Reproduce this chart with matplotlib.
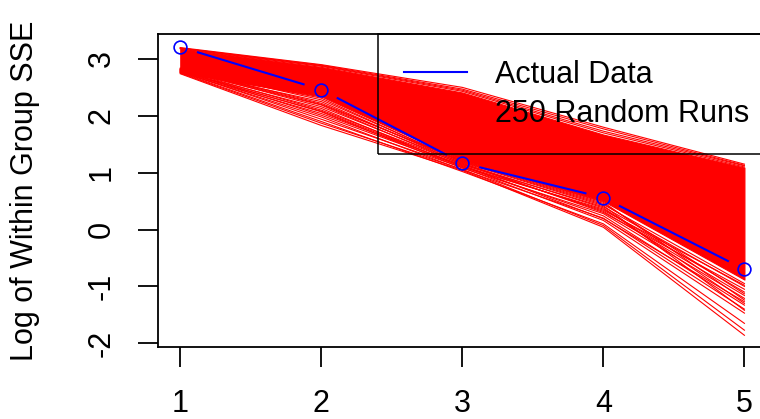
import matplotlib
matplotlib.use("Agg")
import matplotlib.pyplot as plt
import numpy as np

plt.rcParams.update({'font.size': 22, 'font.family': ['Liberation Sans', 'DejaVu Sans']})

# number of clusters
clusters = [1, 2, 3, 4, 5]

# log within-group SSE for the real data
actual_sse = [3.21, 2.46, 1.17, 0.56, -0.70]

# dense band covered by most of the random runs
band_upper = [3.18, 2.86, 2.41, 1.67, 1.09]
band_lower = [2.76, 2.34, 1.22, 0.50, -0.88]

# runs that sit above the dense band
runs_high = [
    [3.20, 2.90, 2.50, 1.80, 1.15],
    [3.19, 2.89, 2.47, 1.77, 1.13],
    [3.19, 2.88, 2.45, 1.73, 1.12],
    [3.18, 2.87, 2.43, 1.70, 1.10],
]

# runs that drift below the dense band
runs_low = [
    [2.74, 1.83, 1.04, 0.04, -1.86],
    [2.75, 1.87, 1.06, 0.07, -1.77],
    [2.76, 1.90, 1.02, 0.10, -1.65],
    [2.78, 1.94, 1.09, 0.16, -1.47],
    [2.77, 1.98, 1.05, 0.20, -1.40],
    [2.80, 2.01, 1.11, 0.24, -1.33],
    [2.76, 2.04, 1.13, 0.19, -1.27],
    [2.79, 2.07, 1.08, 0.28, -1.21],
    [2.81, 2.10, 1.15, 0.32, -1.16],
    [2.78, 2.13, 1.10, 0.36, -1.10],
    [2.82, 2.16, 1.17, 0.30, -1.05],
    [2.80, 2.19, 1.14, 0.40, -1.00],
    [2.83, 2.22, 1.19, 0.44, -0.95],
    [2.79, 2.25, 1.16, 0.38, -1.30],
    [2.84, 2.28, 1.20, 0.46, -1.13],
    [2.81, 2.31, 1.18, 0.42, -1.42],
    [2.77, 2.08, 1.12, 0.34, -0.98],
    [2.82, 2.20, 1.21, 0.48, -1.24],
]

y_ticks = [-2, -1, 0, 1, 2, 3]

fig = plt.figure(figsize=(7.6, 4.19), dpi=100)
ax = fig.add_axes([0.2075, 0.1726, 0.8017, 0.7456])
ax.set_xlim(0.84, 5.16)
ax.set_ylim(-2.06, 3.434)

#random runs
red = "#FF0000"
ax.fill_between(clusters, band_lower, band_upper, color=red, lw=0.8, zorder=1)
for run in runs_high + runs_low:
    ax.plot(clusters, run, color=red, lw=0.8, zorder=2)

#actual data, drawn R "type=b" style: circles with gaps in the line
blue = "#0000FF"
ax.plot(clusters, actual_sse, 'o', mfc='none', mec=blue, mew=1.2, ms=9.2, zorder=4)
pts = ax.transData.transform(np.column_stack([clusters, actual_sse]))
gap = 18.5
for p0, p1 in zip(pts[:-1], pts[1:]):
    d = (p1 - p0) / np.hypot(*(p1 - p0))
    seg = ax.transData.inverted().transform([p0 + gap * d, p1 - gap * d])
    ax.plot(seg[:, 0], seg[:, 1], color=blue, lw=1.5, zorder=3)

#legend handles
h_actual, = ax.plot([], [], color=blue, lw=1.5)
h_random, = ax.plot([], [], color=red, lw=0.8)
leg = ax.legend([h_actual, h_random], ["Actual Data", "250 Random Runs"],
                loc='upper left', bbox_to_anchor=(0.362, 1.0), borderaxespad=0,
                fontsize=22, borderpad=0.83, labelspacing=0.3,
                handlelength=2.08, handletextpad=0.9, fancybox=False, framealpha=1)
leg.get_frame().set_facecolor('none')
leg.get_frame().set_edgecolor('black')
leg.get_frame().set_linewidth(1.1)

#axes and labels
ax.set_xticks(clusters)
ax.set_yticks(y_ticks)
ax.set_yticklabels([str(v) for v in y_ticks], rotation=90, va='center')
ax.tick_params(axis='both', length=14.4, width=1.3, color='black', labelcolor='black')
ax.tick_params(axis='x', pad=16.2)
ax.tick_params(axis='y', pad=15.3)
for spine in ax.spines.values():
    spine.set_linewidth(1.3)
ax.set_ylabel("Log of Within Group SSE")
ax.yaxis.set_label_coords(-0.1924, 0.5)

plt.savefig('out.png', dpi=100)
